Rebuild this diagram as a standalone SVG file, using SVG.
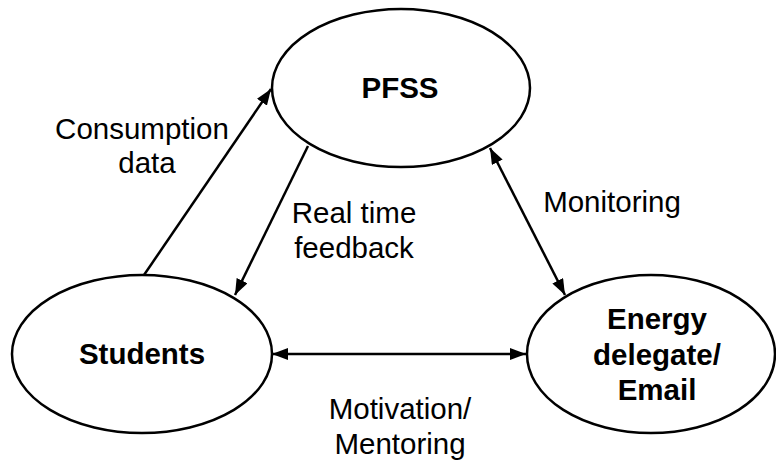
<svg xmlns="http://www.w3.org/2000/svg" width="776" height="461" viewBox="0 0 776 461">
<defs>
<style>
.node{fill:#fff;stroke:#000;stroke-width:2.5}
.lbl{font-family:"Liberation Sans",Arial,sans-serif;font-size:29.5px;fill:#000;text-anchor:middle}
.b{font-weight:bold}
.edge{stroke:#000;stroke-width:2.5;fill:none}
</style>
<marker id="ah" viewBox="0 0 16 12" refX="16" refY="6" markerWidth="16" markerHeight="12" markerUnits="userSpaceOnUse" orient="auto-start-reverse">
<path d="M0,0 L16,6 L0,12 Z" fill="#000"/>
</marker>
</defs>
<rect width="776" height="461" fill="#fff"/>
<g id="connectors">
<line class="edge" x1="144" y1="275" x2="271" y2="89" marker-end="url(#ah)"/>
<line class="edge" x1="308" y1="146" x2="235" y2="295" marker-end="url(#ah)"/>
<line class="edge" x1="490" y1="148" x2="565" y2="295" marker-start="url(#ah)" marker-end="url(#ah)"/>
<line class="edge" x1="272" y1="354" x2="526" y2="354" marker-start="url(#ah)" marker-end="url(#ah)"/>
</g>
<g id="pfss">
<ellipse class="node" cx="401" cy="88" rx="129" ry="79"/>
<text class="lbl b" x="400" y="98">PFSS</text>
</g>
<g id="students">
<ellipse class="node" cx="142" cy="354" rx="130" ry="79"/>
<text class="lbl b" x="142" y="364">Students</text>
</g>
<g id="energy">
<ellipse class="node" cx="651" cy="354" rx="124" ry="79"/>
<text class="lbl b" x="657" y="329">Energy</text>
<text class="lbl b" x="657" y="365">delegate/</text>
<text class="lbl b" x="657" y="400">Email</text>
</g>
<g id="labels">
<text class="lbl" x="142" y="139">Consumption</text>
<text class="lbl" x="147" y="173">data</text>
<text class="lbl" x="354" y="223">Real time</text>
<text class="lbl" x="354" y="258">feedback</text>
<text class="lbl" x="612" y="212">Monitoring</text>
<text class="lbl" x="400" y="419">Motivation/</text>
<text class="lbl" x="400" y="454">Mentoring</text>
</g>
</svg>
